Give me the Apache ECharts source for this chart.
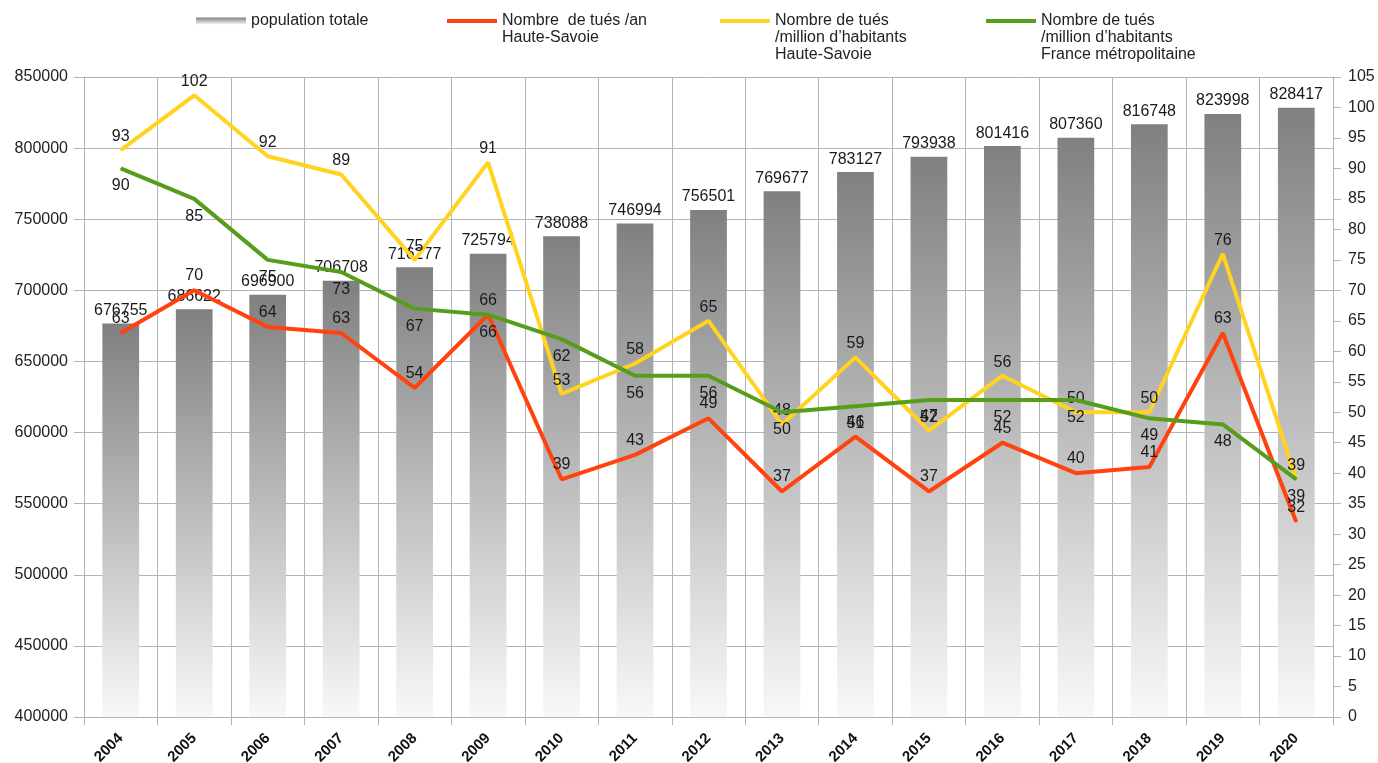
<!DOCTYPE html>
<html><head><meta charset="utf-8">
<script src="https://cdn.jsdelivr.net/npm/echarts@6/dist/echarts.min.js"></script>
<style>html,body{margin:0;padding:0;background:#fff}#c{width:1378px;height:763px}</style>
</head><body><div id="c"></div>
<script>
const years = ['2004','2005','2006','2007','2008','2009','2010','2011','2012','2013','2014','2015','2016','2017','2018','2019','2020'];
const population = [676755,686622,696900,706708,716277,725794,738088,746994,756501,769677,783127,793938,801416,807360,816748,823998,828417];
const tuesAn = [63,70,64,63,54,66,39,43,49,37,46,37,45,40,41,63,32];
const tuesMillionHS = [93,102,92,89,75,91,53,58,65,48,59,47,56,50,50,76,39];
const tuesMillionFR = [90,85,75,73,67,66,62,56,56,50,51,52,52,52,49,48,39];
const seriesNames = ['population totale','Nombre  de tués /an\nHaute-Savoie','Nombre de tués\n/million d\u2019habitants\nHaute-Savoie','Nombre de tués\n/million d\u2019habitants\nFrance métropolitaine'];

const FONT = 'Liberation Sans';
const grid = '#b3b3b3';
const barGrad = new echarts.graphic.LinearGradient(0,0,0,1,[{offset:0,color:'#808080'},{offset:1,color:'#f8f8f8'}]);
const LH = 17;
function legendFor(i, left, iconH){
  const n = seriesNames[i].split('\n').length;
  const boxH = Math.max((2*n-1)*LH, iconH);
  return {
    left: left, top: 21 - boxH/2, padding: 0, orient:'horizontal',
    itemWidth: 50, itemHeight: iconH, itemGap: 5,
    selectedMode: false,
    data: [{name: seriesNames[i], icon: 'rect'}],
    formatter: function(name){ return '\u00a0\n'.repeat(n-1) + name; },
    textStyle: {fontFamily: FONT, fontSize: 16, color:'#222', lineHeight: LH}
  };
}
const lineLabel = (pos, dist) => ({show:true, position: pos, distance: dist, fontFamily: FONT, fontSize: 16, color:'#1a1a1a'});

const option = {
  backgroundColor:'#fff',
  animation:false,
  legend: [legendFor(0,196,7), legendFor(1,447,4), legendFor(2,720,4), legendFor(3,986,4)],
  grid:{left:84,right:45,top:77,bottom:46,containLabel:false,outerBoundsMode:'none'},
  xAxis:{
    type:'category', data: years, boundaryGap:true,
    axisLine:{show:true,lineStyle:{color:grid}},
    axisTick:{show:true,length:8,interval:0,lineStyle:{color:grid}},
    splitLine:{show:true,interval:0,lineStyle:{color:grid,width:1}},
    axisLabel:{interval:0,rotate:45,margin:19,fontFamily:FONT,fontWeight:'bold',fontSize:15,color:'#111'}
  },
  yAxis:[{
    type:'value', min:400000, max:850000, interval:50000,
    axisLine:{show:true,lineStyle:{color:grid}},
    axisTick:{show:true,length:10,lineStyle:{color:grid}},
    splitLine:{show:true,lineStyle:{color:grid,width:1}},
    axisLabel:{margin:16,fontFamily:FONT,fontSize:16,color:'#222',formatter:function(v){return String(v);}}
  },{
    type:'value', min:0, max:105, interval:5, position:'right',
    axisLine:{show:true,lineStyle:{color:grid}},
    axisTick:{show:true,length:8,lineStyle:{color:grid}},
    splitLine:{show:false},
    axisLabel:{margin:15,fontFamily:FONT,fontSize:16,color:'#222'}
  }],
  series:[
    {name:seriesNames[0], type:'bar', data: population, barWidth:'50%', yAxisIndex:0,
     itemStyle:{color:barGrad},
     label:{show:true,position:'top',distance:5,fontFamily:FONT,fontSize:16,color:'#1a1a1a'}},
    {name:seriesNames[1], type:'line', data: tuesAn, yAxisIndex:1, symbol:'circle', symbolSize:1, showSymbol:true,
     lineStyle:{width:4,color:'#ff420e'}, itemStyle:{color:'#ff420e'}, label: lineLabel('top',6), z:3},
    {name:seriesNames[2], type:'line', data: tuesMillionHS, yAxisIndex:1, symbol:'circle', symbolSize:1, showSymbol:true,
     lineStyle:{width:4,color:'#ffd320'}, itemStyle:{color:'#ffd320'}, label: lineLabel('top',5), z:3},
    {name:seriesNames[3], type:'line', data: tuesMillionFR, yAxisIndex:1, symbol:'circle', symbolSize:1, showSymbol:true,
     lineStyle:{width:4,color:'#579d1c'}, itemStyle:{color:'#579d1c'}, label: lineLabel('bottom',9), z:4}
  ]
};
const chart = echarts.init(document.getElementById('c'), null, {renderer:'canvas'});
chart.setOption(option);
</script></body></html>
